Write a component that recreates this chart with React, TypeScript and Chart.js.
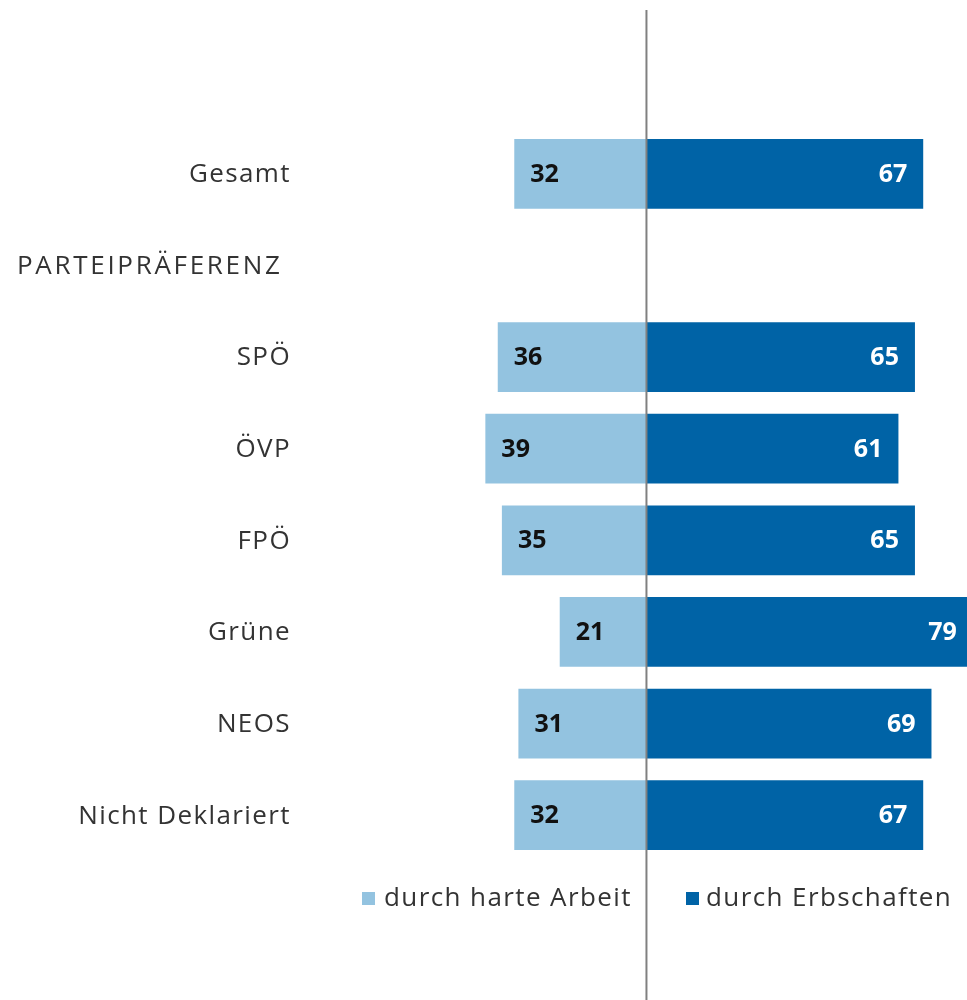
import React, { useEffect, useRef } from "react";
import { Chart, registerables } from "chart.js";

Chart.register(...registerables);

const categories = ["Gesamt", "PARTEIPRÄFERENZ", "SPÖ", "ÖVP", "FPÖ", "Grüne", "NEOS", "Nicht Deklariert"];
const headerRows = ["PARTEIPRÄFERENZ"];
const hardWork = [32, null, 36, 39, 35, 21, 31, 32];
const inheritance = [67, null, 65, 61, 65, 79, 69, 67];
const seriesNames = ["durch harte Arbeit", "durch Erbschaften"];
const colors = ["#93c3e0", "#0063a6"];

const FONT = "'Open Sans', 'DejaVu Sans', sans-serif";

export default function App() {
  const ref = useRef<HTMLCanvasElement | null>(null);

  useEffect(() => {
    document.body.style.margin = "0";
    if (!ref.current) return;

    const overlay = {
      id: "overlay",
      afterDatasetsDraw(chart: any) {
        const ctx = chart.ctx;
        const x = chart.scales.x;
        const y = chart.scales.y;
        const zero = x.getPixelForValue(0);
        ctx.save();
        // category labels
        ctx.fillStyle = "#333333";
        ctx.font = `400 26px ${FONT}`;
        ctx.textBaseline = "middle";
        categories.forEach((c, i) => {
          const py = y.getPixelForValue(i) + 1;
          if (headerRows.includes(c)) {
            (ctx as any).letterSpacing = "2.7px";
            ctx.textAlign = "left";
            ctx.fillText(c, 17, py);
          } else {
            (ctx as any).letterSpacing = "1.4px";
            ctx.textAlign = "right";
            ctx.fillText(c, 291, py);
          }
        });
        // value labels
        (ctx as any).letterSpacing = "0px";
        ctx.font = `700 25px ${FONT}`;
        hardWork.forEach((v, i) => {
          if (v == null) return;
          const py = y.getPixelForValue(i) + 1;
          ctx.fillStyle = "#111111";
          ctx.textAlign = "left";
          ctx.fillText(String(v), x.getPixelForValue(-v) + 16, py);
        });
        inheritance.forEach((v, i) => {
          if (v == null) return;
          const py = y.getPixelForValue(i) + 1;
          ctx.fillStyle = "#ffffff";
          ctx.textAlign = "right";
          ctx.fillText(String(v), x.getPixelForValue(v) - 16, py);
        });
        // center line
        ctx.strokeStyle = "#808080";
        ctx.lineWidth = 2;
        ctx.beginPath();
        ctx.moveTo(zero, 10);
        ctx.lineTo(zero, 1000);
        ctx.stroke();
        // legend
        const ly = 899;
        ctx.font = `400 26px ${FONT}`;
        (ctx as any).letterSpacing = "1.4px";
        ctx.textAlign = "left";
        const items = [
          { sx: 362, tx: 384 },
          { sx: 686, tx: 706 },
        ];
        items.forEach((it, i) => {
          ctx.fillStyle = colors[i];
          ctx.fillRect(it.sx, ly - 7, 13, 13);
          ctx.fillStyle = "#333333";
          ctx.fillText(seriesNames[i], it.tx, ly);
        });
        ctx.restore();
      },
    };

    const chart = new Chart(ref.current, {
      type: "bar",
      data: {
        labels: categories,
        datasets: [
          {
            label: seriesNames[0],
            data: hardWork.map((v) => (v == null ? null : -v)),
            backgroundColor: colors[0],
            barPercentage: 0.76,
            categoryPercentage: 1,
          },
          {
            label: seriesNames[1],
            data: inheritance,
            backgroundColor: colors[1],
            barPercentage: 0.76,
            categoryPercentage: 1,
          },
        ],
      },
      options: {
        indexAxis: "y",
        animation: false,
        responsive: false,
        layout: { padding: { top: 128, bottom: 139, left: 0, right: 0 } },
        plugins: { legend: { display: false }, tooltip: { enabled: false } },
        scales: {
          x: {
            stacked: true,
            min: -156.5,
            max: 77.6,
            display: false,
          },
          y: {
            stacked: true,
            display: false,
          },
        },
      },
      plugins: [overlay],
    });
    return () => chart.destroy();
  }, []);

  return (
    <div style={{ position: "absolute", left: 0, top: 0, width: 967, height: 1000 }}>
      <canvas ref={ref} width={967} height={1000} style={{ display: "block" }} />
    </div>
  );
}
